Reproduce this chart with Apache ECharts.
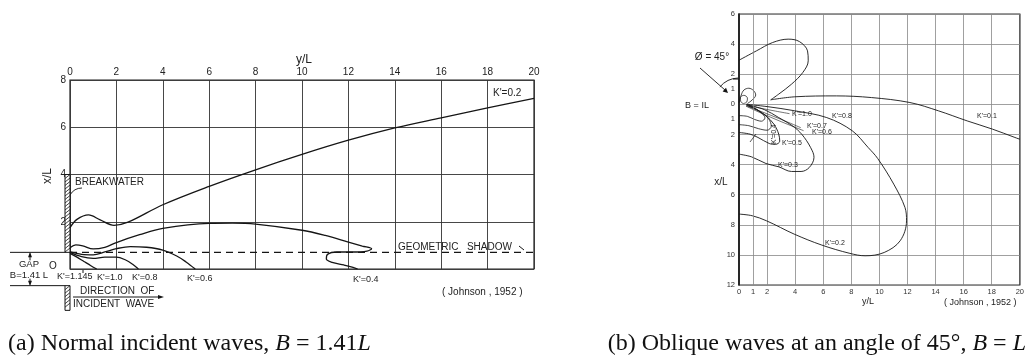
<!DOCTYPE html>
<html>
<head>
<meta charset="utf-8">
<script src="https://cdn.jsdelivr.net/npm/echarts@6/dist/echarts.min.js"></script>
<style>
html, body { margin: 0; padding: 0; background: #fff; }
#main { width: 1027px; height: 356px; }
</style>
</head>
<body>
<div id="main"></div>
<script>
// (a) normal incidence, B = 1.41L : [y/L, x/L]
var aK02 = [[0,1.75],[0.3,2.1],[0.8,2.29],[1.3,2.08],[1.9,1.85],[2.5,1.98],[4,2.72],[6,3.5],[8,4.2],[10,4.85],[12,5.45],[14,5.97],[16,6.4],[18,6.82],[20,7.22]];
var aK04 = [[0,0.9],[0.25,1.02],[0.55,0.98],[1.0,0.85],[1.5,0.92],[2,1.12],[3,1.45],[4,1.72],[6,1.93],[7,1.94],[8,1.9],[10,1.64],[11,1.42],[12,1.14],[12.6,0.97],[13,0.86],[12.8,0.76],[12.2,0.72],[11.5,0.72],[11.1,0.62],[11.05,0.42],[11.3,0.28],[11.8,0.17],[12.2,0.07],[12.4,0]];
var aK06 = [[0,0.72],[0.5,0.62],[1,0.6],[1.5,0.72],[2,0.86],[2.6,0.95],[3.3,0.92],[4,0.8],[4.6,0.55],[5.0,0.3],[5.4,0]];
var aK08 = [[0,0.7],[0.5,0.52],[1,0.45],[1.5,0.5],[2,0.5],[2.4,0.38],[2.7,0.2],[2.95,0]];
var aK10 = [[0,0.66],[0.3,0.5],[0.6,0.32],[0.9,0.14],[1.15,0]];
var aShadow = [[0,0.705],[20,0.705]];

// (b) oblique 45 deg, B = L : [y/L, x/L] (negative x/L = upper side)
var bK01Lobe = [[0,-2.93],[1.24,-3.55],[2.38,-4.1],[3.5,-4.33],[4.3,-4.17],[4.88,-3.55],[4.93,-2.89],[4.54,-2.11],[3.74,-1.34],[2.83,-0.68],[2.26,-0.3]];
var bK01 = [[2.26,-0.3],[3.97,-0.5],[6.93,-0.56],[9.43,-0.45],[12.17,-0.12],[14.2,0.43],[16.25,1.1],[18.06,1.65],[19.65,2.2],[20,2.32]];
var bK02 = [[0.5,0],[2,0.15],[3.97,0.43],[6.25,0.88],[8.07,1.76],[9.2,2.87],[9.88,3.6],[11.02,5.3],[11.82,6.85],[11.93,7.74],[11.48,9.06],[10.34,9.84],[8.98,10.06],[7.9,9.9],[5.9,9.35],[3.93,8.62],[1.97,7.74],[0.94,7.4],[0,7.29]];
var bK03 = [[0.7,0.05],[1.8,0.35],[2.83,0.88],[3.97,1.54],[4.65,2.2],[5.22,3.09],[5.34,3.53],[5,4.2],[4.42,4.46],[3.74,4.46],[2.83,4.15],[1.92,3.93],[0.9,3.49],[0,3.31]];
var bK05 = [[0.67,0.03],[1.24,0.32],[1.92,0.76],[2.49,1.32],[2.83,1.98],[2.9,2.45],[2.6,2.66],[2.15,2.6],[1.35,2.2],[0.79,1.98],[0,1.87]];
var bK04 = [[0.6,0.08],[1.5,0.5],[2.1,0.95],[2.3,1.45],[2.0,1.72],[1.4,1.62],[0.7,1.42],[0,1.35]];
var bInner = [[0.55,0.05],[1.0,0.22],[1.5,0.5],[1.85,0.9],[1.6,1.12],[1.1,1.0],[0.6,0.8],[0,0.75]];
var bK10 = [[0.5,0.05],[1.5,0.25],[2.6,0.45],[3.6,0.62]];
var bK07 = [[0.5,0.1],[1.5,0.45],[3.0,1.0],[4.4,1.55]];
var bK06 = [[0.5,0.12],[1.5,0.55],[3.0,1.15],[4.6,1.75]];
var bUpperLobe = [[0.6,-0.05],[0.95,-0.3],[1.19,-0.62],[1.05,-0.9],[0.7,-1.07],[0.35,-0.95],[0.15,-0.6],[0,-0.1]];
var bTinyLoop = [[0.3,-0.05],[0.55,-0.15],[0.6,-0.42],[0.35,-0.6],[0.1,-0.45],[0.12,-0.2],[0.3,-0.05]];

// tick labels of panel (b)
var bULabels = [0,1,2,4,6,8,10,12,14,16,18,20];
var bWLabels = [-6,-4,-2,-1,0,1,2,4,6,8,10,12];

var ink = '#151515';
var sans = '"Liberation Sans", Arial, sans-serif';

function curve(name, data, idx, w) {
    return {
        name: name, type: 'line', xAxisIndex: idx, yAxisIndex: idx,
        data: data, smooth: 0.35, symbol: 'none', silent: true,
        lineStyle: { color: ink, width: w || 1.3 }, z: 3
    };
}

var chart = echarts.init(document.getElementById('main'), null, { renderer: 'canvas' });

var shadow = curve('shadow', aShadow, 0, 1.1);
shadow.smooth = false;
shadow.lineStyle.type = [7, 5];

var k01 = curve('K=0.1', bK01, 1, 0.9);
k01.markLine = {
    silent: true, symbol: 'none', label: { show: false },
    lineStyle: { color: '#888', width: 0.8, type: 'solid' },
    data: [{ xAxis: 1 }]
};

chart.setOption({
    animation: false,
    backgroundColor: '#fff',
    grid: [
        { left: 70, top: 80, width: 464, height: 189, show: true, borderColor: '#222', borderWidth: 1.2 },
        { left: 739, top: 14, width: 293, height: 271, show: true, borderColor: '#333', borderWidth: 1.2 }
    ],
    xAxis: [
        {
            gridIndex: 0, type: 'value', position: 'top', min: 0, max: 20, interval: 2,
            axisLine: { show: false }, axisTick: { show: false },
            axisLabel: { color: '#222', fontSize: 10, fontFamily: sans, margin: 3 },
            splitLine: { lineStyle: { color: '#333', width: 0.9 } }
        },
        {
            gridIndex: 1, type: 'value', position: 'bottom', min: 0, max: 20, interval: 2,
            axisLine: { show: false }, axisTick: { show: false },
            axisLabel: { color: '#333', fontSize: 7.5, fontFamily: sans, margin: 3, customValues: bULabels },
            splitLine: { lineStyle: { color: '#888', width: 0.8 } }
        }
    ],
    yAxis: [
        {
            gridIndex: 0, type: 'value', min: 0, max: 8, interval: 2,
            axisLine: { show: false }, axisTick: { show: false },
            axisLabel: { color: '#222', fontSize: 10, fontFamily: sans, margin: 4,
                formatter: function (v) { return v === 0 ? '' : v; } },
            splitLine: { lineStyle: { color: '#333', width: 0.9 } }
        },
        {
            gridIndex: 1, type: 'value', inverse: true, min: -6, max: 12, interval: 2,
            axisLine: { show: true, lineStyle: { color: '#111', width: 1.6 } }, axisTick: { show: false },
            axisLabel: { color: '#333', fontSize: 7.5, fontFamily: sans, margin: 4, customValues: bWLabels,
                formatter: function (v) { return Math.abs(v); } },
            splitLine: { lineStyle: { color: '#888', width: 0.8 } }
        }
    ],
    series: [
        curve('K=0.2', aK02, 0), curve('K=0.4', aK04, 0), curve('K=0.6', aK06, 0),
        curve('K=0.8', aK08, 0), curve('K=1.0', aK10, 0), shadow,
        curve('K=0.1 lobe', bK01Lobe, 1, 0.9), k01, curve('K=0.2', bK02, 1, 0.9),
        curve('K=0.3', bK03, 1, 0.9), curve('K=0.5', bK05, 1, 0.9), curve('K=0.4', bK04, 1, 0.8),
        curve('inner', bInner, 1, 0.8), curve('K=1.0', bK10, 1, 0.6), curve('K=0.7', bK07, 1, 0.6),
        curve('K=0.6', bK06, 1, 0.6), curve('upper lobe', bUpperLobe, 1, 0.8), curve('tiny', bTinyLoop, 1, 0.7)
    ]
});

// annotations
function txt(x, y, s, size, opt) {
    opt = opt || {};
    return {
        type: 'text', x: x, y: y, rotation: opt.rot || 0, z: 10, silent: true,
        style: { text: s, fill: opt.fill || '#222', font: (size || 10) + 'px ' + (opt.font || sans),
            align: opt.align || 'left', verticalAlign: 'middle' }
    };
}
function seg(x1, y1, x2, y2, w) {
    return { type: 'line', z: 10, silent: true, shape: { x1: x1, y1: y1, x2: x2, y2: y2 },
        style: { stroke: ink, lineWidth: w || 1 } };
}
function head(pts) {
    return { type: 'polygon', z: 10, silent: true, shape: { points: pts }, style: { fill: ink } };
}
function hatch(x0, x1, yTop, yBot) {
    var out = [{ type: 'rect', z: 10, silent: true,
        shape: { x: x0, y: yTop, width: x1 - x0, height: yBot - yTop },
        style: { fill: '#fff', stroke: ink, lineWidth: 1 } }];
    for (var y = yTop + 4; y <= yBot; y += 3.5) {
        out.push(seg(x0, y, x1, y - 4, 0.8));
    }
    return out;
}

var px = function (i, p) { return chart.convertToPixel({ gridIndex: i }, p); };
var bwTop = px(0, [0, 4]), gapTop = px(0, [0, 0.705]), gapBot = px(0, [0, -0.705]), bwBot = px(0, [0, -1.75]);
var x0 = bwTop[0];

var g = [];
g = g.concat(hatch(x0 - 5, x0, bwTop[1], gapTop[1]));
g = g.concat(hatch(x0 - 5, x0, gapBot[1], bwBot[1]));
g.push(seg(10, gapTop[1], x0 - 5, gapTop[1], 1));
g.push(seg(10, gapBot[1], x0 - 5, gapBot[1], 1));
// gap dimension arrows
g.push(seg(30, gapTop[1] + 1, 30, gapTop[1] + 8, 1));
g.push(head([[30, gapTop[1]], [28, gapTop[1] + 5], [32, gapTop[1] + 5]]));
g.push(seg(30, gapBot[1] - 7, 30, gapBot[1] - 1, 1));
g.push(head([[30, gapBot[1]], [28, gapBot[1] - 5], [32, gapBot[1] - 5]]));
g.push(txt(29, 264, 'GAP', 9.5, { align: 'center' }));
g.push(txt(29, 275, 'B=1.41 L', 9.5, { align: 'center' }));
g.push(txt(53, 266, 'O', 10, { align: 'center' }));
// direction of incident wave
g.push(seg(73, 297, 160, 297, 1));
g.push(head([[164, 297], [158, 295], [158, 299]]));
g.push(txt(80, 291, 'DIRECTION  OF', 10));
g.push(txt(73, 304, 'INCIDENT  WAVE', 10));
// breakwater pointer
g.push(txt(75, 182, 'BREAKWATER', 10));
g.push({ type: 'bezierCurve', z: 10, silent: true,
    shape: { x1: 82, y1: 188, cpx1: 74, cpy1: 188, x2: 70, y2: 195 },
    style: { stroke: ink, lineWidth: 0.9, fill: null } });
// curve labels (a)
g.push(txt(493, 93, "K'=0.2", 10));
g.push(txt(398, 247, 'GEOMETRIC   SHADOW', 10));
g.push(seg(519, 246, 524, 250, 1));
g.push(txt(57, 277, "K'=1.145", 9));
g.push(seg(83, 270, 83, 273, 1));
g.push(txt(97, 278, "K'=1.0", 9));
g.push(txt(132, 278, "K'=0.8", 9));
g.push(txt(187, 279, "K'=0.6", 9));
g.push(txt(353, 280, "K'=0.4", 9));
g.push(txt(442, 292, '( Johnson , 1952 )', 10));
g.push(txt(304, 60, 'y/L', 12, { align: 'center' }));
g.push(txt(48, 176, 'x/L', 12, { align: 'center', rot: Math.PI / 2 }));

// panel (b) annotations
g.push(txt(712, 57, 'Ø = 45°', 10, { align: 'center' }));
g.push(seg(700, 68, 725, 90, 0.9));
g.push(head([[728, 93], [722.6, 91.6], [726, 87.8]]));
g.push({ type: 'arc', z: 10, silent: true,
    shape: { cx: 739, cy: 103, r: 25, startAngle: 220 * Math.PI / 180, endAngle: 268 * Math.PI / 180, clockwise: true },
    style: { stroke: ink, lineWidth: 0.9, fill: null } });
g.push(seg(733, 79, 739, 79, 1));
g.push(txt(697, 106, 'B = IL', 9, { align: 'center' }));
g.push(txt(721, 182, 'x/L', 10, { align: 'center' }));
g.push(txt(868, 302, 'y/L', 9, { align: 'center' }));
g.push(txt(944, 303, '( Johnson , 1952 )', 9));
g.push(txt(977, 116, "K'=0.1", 7));
g.push(txt(832, 116, "K'=0.8", 7));
g.push(txt(792, 114, "K'=1.0", 7));
g.push(txt(807, 126, "K'=0.7", 7));
g.push(txt(812, 132, "K'=0.6", 7));
g.push(txt(782, 143, "K'=0.5", 7));
g.push(txt(774, 134, "K'=0.4", 7, { align: 'center', rot: Math.PI / 2 }));
g.push(txt(778, 165, "K'=0.3", 7));
g.push(txt(825, 243, "K'=0.2", 7));
g.push(seg(750, 142, 756, 134, 0.7));

// captions
var rich = {
    n: { fontFamily: '"Liberation Serif", "Times New Roman", serif', fontSize: 24, fill: '#111' },
    i: { fontFamily: '"Liberation Serif", "Times New Roman", serif', fontSize: 24, fontStyle: 'italic', fill: '#111' }
};
g.push({ type: 'text', x: 8, y: 344, silent: true,
    style: { text: '{n|(a) Normal incident waves, }{i|B}{n| = 1.41}{i|L}', rich: rich, verticalAlign: 'middle' } });
g.push({ type: 'text', x: 1026, y: 344, silent: true,
    style: { text: '{n|(b) Oblique waves at an angle of 45°, }{i|B}{n| = }{i|L}', rich: rich, align: 'right', verticalAlign: 'middle' } });

chart.setOption({ graphic: g });
</script>
</body>
</html>
